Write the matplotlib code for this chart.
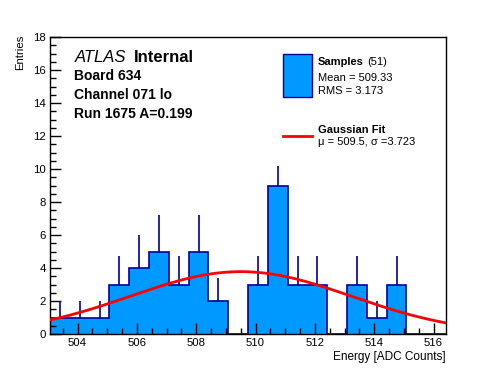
import numpy as np
import matplotlib
matplotlib.use("Agg")
import matplotlib.pyplot as plt
from matplotlib.ticker import MultipleLocator

plt.rcParams['font.family'] = ['Liberation Sans', 'DejaVu Sans']

# histogram data (20 bins)
x_lo, x_hi, n_bins = 503.07, 516.42, 20
counts = [1, 1, 1, 3, 4, 5, 3, 5, 2, 0, 3, 9, 3, 3, 0, 3, 1, 3, 0, 0]
errors = [1, 1, 1, 1.73, 2, 2.24, 1.73, 2.24, 1.41, 0, 1.73, 1.2, 1.73, 1.73, 0, 1.73, 1, 1.73, 0, 0]

# gaussian fit parameters
fit_amp, fit_mu, fit_sigma = 3.78, 509.5, 3.723

n_samples = 51
mean_val, rms_val = 509.33, 3.173

W, H = 496, 372
fig = plt.figure(figsize=(W / 100, H / 100), dpi=100)
ax = fig.add_axes([50 / W, 1 - 334 / H, 396 / W, 297 / H])

edges = np.linspace(x_lo, x_hi, n_bins + 1)
counts = np.array(counts, dtype=float)
errors = np.array(errors, dtype=float)
centers = 0.5 * (edges[:-1] + edges[1:])

fill_col = '#0099ff'
line_col = '#000099'

ax.stairs(counts, edges, fill=True, color=fill_col, zorder=1)
ax.stairs(counts, edges, color=line_col, linewidth=1.2, zorder=2)
m = counts > 0
ax.vlines(centers[m], counts[m], counts[m] + errors[m],
          color=line_col, linewidth=1.2, zorder=2)

xf = np.linspace(x_lo, x_hi, 400)
yf = fit_amp * np.exp(-0.5 * ((xf - fit_mu) / fit_sigma) ** 2)
ax.plot(xf, yf, color='red', linewidth=2, zorder=3)

ax.set_xlim(x_lo, x_hi)
ax.set_ylim(0, 18)
ax.xaxis.set_major_locator(MultipleLocator(2))
ax.xaxis.set_minor_locator(MultipleLocator(0.5))
ax.yaxis.set_major_locator(MultipleLocator(2))
ax.yaxis.set_minor_locator(MultipleLocator(0.5))
ax.tick_params(which='both', direction='in', top=False, right=False,
               labelsize=8.2, width=1)
ax.tick_params(which='major', length=8)
ax.tick_params(which='minor', length=4.3)
ax.tick_params(axis='x', pad=3)
ax.tick_params(axis='y', pad=3)
for s in ax.spines.values():
    s.set_linewidth(1)


def px(x, y):
    return x / W, 1 - y / H


fig.text(*px(20, 35), 'Entries', rotation=90, ha='center', va='top', fontsize=8.2)
fig.text(*px(446, 360), 'Energy [ADC Counts]', ha='right', va='baseline', fontsize=8.5)

fig.text(*px(75, 62), 'ATLAS', style='italic', fontsize=12, va='baseline')
fig.text(*px(134, 62), 'Internal', weight='bold', fontsize=12, va='baseline')
fig.text(*px(74, 80), 'Board 634', weight='bold', fontsize=10, va='baseline')
fig.text(*px(74, 99), 'Channel 071 lo', weight='bold', fontsize=10, va='baseline')
fig.text(*px(74, 118), 'Run 1675 A=0.199', weight='bold', fontsize=10, va='baseline')

# legend
fig.patches.append(plt.Rectangle(px(283, 97), 28.5 / W, 43.5 / H, transform=fig.transFigure,
                                 facecolor=fill_col, edgecolor=line_col, linewidth=1))
fig.text(*px(318, 65), 'Samples', weight='bold', fontsize=8, va='baseline')
fig.text(*px(367, 65), '(%d)' % n_samples, fontsize=8, va='baseline')
fig.text(*px(318, 81), 'Mean = %.2f' % mean_val, fontsize=8, va='baseline')
fig.text(*px(318, 94), 'RMS = %.3f' % rms_val, fontsize=8, va='baseline')
fig.lines.append(plt.Line2D([283 / W, 312 / W], [1 - 136 / H, 1 - 136 / H],
                            transform=fig.transFigure, color='red', linewidth=2))
fig.text(*px(318, 133), 'Gaussian Fit', weight='bold', fontsize=8, va='baseline')
fig.text(*px(318, 145), 'μ = %.1f, σ =%.3f' % (fit_mu, fit_sigma), fontsize=8, va='baseline')

fig.savefig('out.png', dpi=100)
